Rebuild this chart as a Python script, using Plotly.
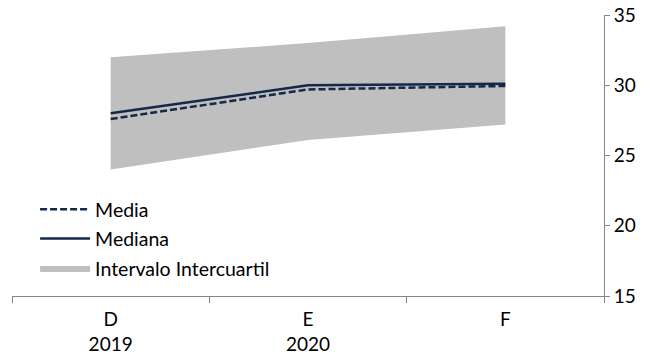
import plotly.graph_objects as go

# Data
meses = ['D<br>2019', 'E<br>2020', 'F']
media = [27.6, 29.7, 29.95]
mediana = [28.0, 30.0, 30.1]
q1 = [24.0, 26.1, 27.2]
q3 = [32.0, 33.0, 34.2]

navy = '#14284b'
gris = '#bfbfbf'

fig = go.Figure()

fig.add_trace(
    go.Scatter(x=meses, y=q1, mode='lines', line=dict(width=0, color=gris),
               showlegend=False, hoverinfo='skip', legendgroup='c')
)
fig.add_trace(
    go.Scatter(x=meses, y=q3, mode='lines', line=dict(width=0, color=gris),
               fill='tonexty', fillcolor=gris,
               name='Intervalo Intercuartil', legendrank=3, legendgroup='c')
)
fig.add_trace(
    go.Scatter(x=meses, y=media, mode='lines',
               line=dict(color=navy, width=2.5, dash='7px,3px'),
               name='Media', legendrank=1, legendgroup='a')
)
fig.add_trace(
    go.Scatter(x=meses, y=mediana, mode='lines',
               line=dict(color=navy, width=2.5),
               name='Mediana', legendrank=2, legendgroup='b')
)

fig.update_layout(
    width=656, height=360,
    margin=dict(l=12, r=52, t=15, b=64),
    paper_bgcolor='white', plot_bgcolor='white',
    font=dict(family='Lato, Noto Sans, sans-serif', size=18, color='#000000'),
    legend=dict(x=0.039, y=0.377, xanchor='left', yanchor='top',
                bgcolor='rgba(0,0,0,0)', font=dict(size=19.5),
                traceorder='grouped', tracegroupgap=1, itemwidth=50),
)

fig.update_xaxes(
    type='category', tickson='boundaries', ticks='outside', ticklen=6,
    tickcolor='#868686', showline=True, linecolor='#868686', linewidth=1,
    showgrid=False, zeroline=False, range=[-0.5, 2.5], fixedrange=True,
    automargin=False, tickfont=dict(size=19), ticklabelstandoff=6,
)
fig.update_yaxes(
    side='right', range=[15, 35], dtick=5, ticks='outside', ticklen=5,
    tickcolor='#868686', showline=True, linecolor='#868686', linewidth=1,
    showgrid=False, zeroline=False, fixedrange=True, automargin=False,
    tickfont=dict(size=19),
)

# drop the default page margin so the figure sits at the window corner
fig.write_html('out.html', config={'displayModeBar': False},
               post_script="document.body.style.margin='0';")
